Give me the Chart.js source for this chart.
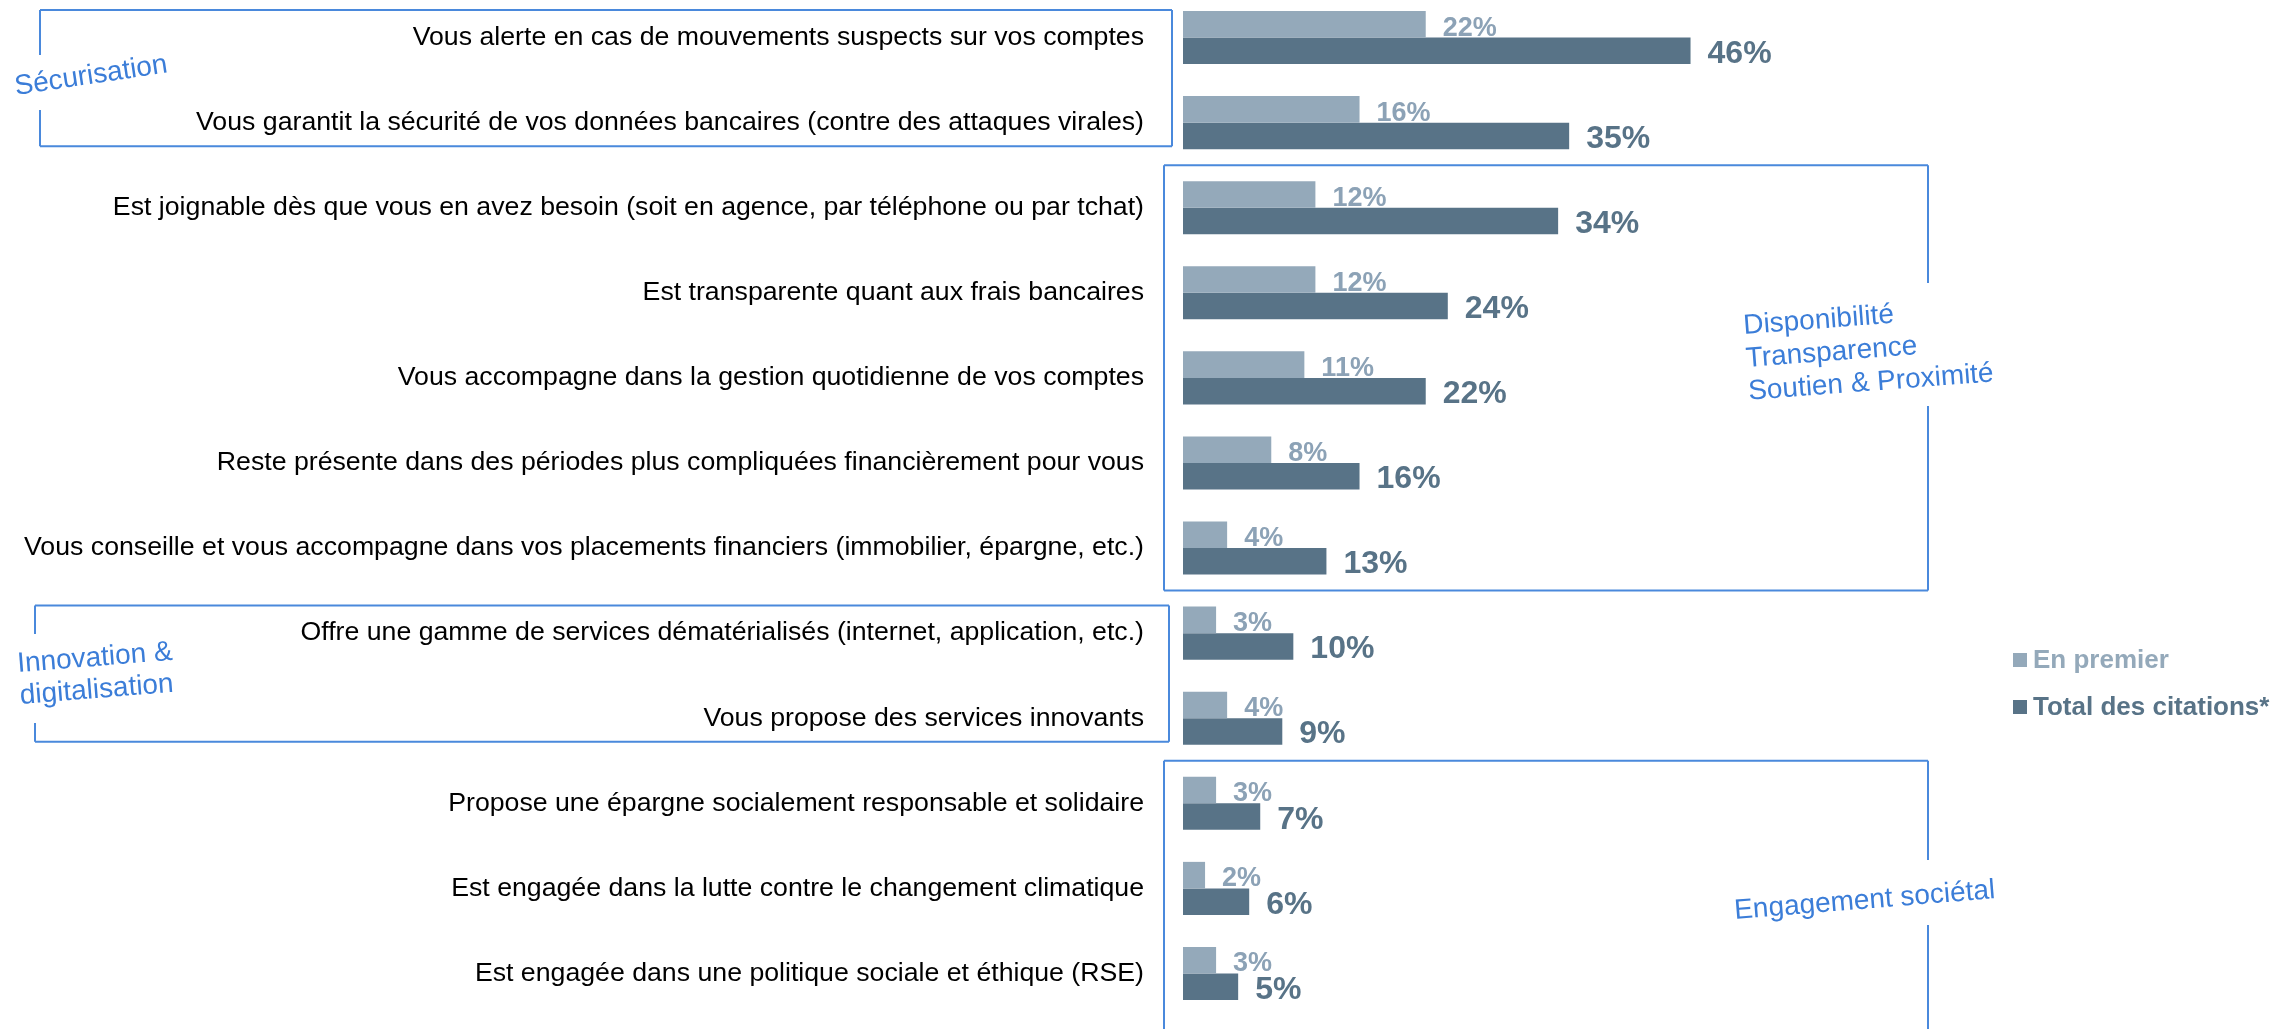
<!DOCTYPE html>
<html lang="fr">
<head>
<meta charset="UTF-8">
<title>Attentes envers la banque</title>
<script src="https://cdn.jsdelivr.net/npm/chart.js"></script>
<style>
  html, body { margin: 0; padding: 0; background: #fff; overflow: hidden; }
  /* le canvas remonte de 5px pour caler la première ligne comme sur l'original */
  .wrap { position: absolute; left: 0; top: -5px; width: 2280px; height: 1034px; }
</style>
</head>
<body>
<div class="wrap"><canvas id="chart"></canvas></div>
<script>
// Données
const categories = [
  'Vous alerte en cas de mouvements suspects sur vos comptes',
  'Vous garantit la sécurité de vos données bancaires (contre des attaques virales)',
  'Est joignable dès que vous en avez besoin (soit en agence, par téléphone ou par tchat)',
  'Est transparente quant aux frais bancaires',
  'Vous accompagne dans la gestion quotidienne de vos comptes',
  'Reste présente dans des périodes plus compliquées financièrement pour vous',
  'Vous conseille et vous accompagne dans vos placements financiers (immobilier, épargne, etc.)',
  'Offre une gamme de services dématérialisés (internet, application, etc.)',
  'Vous propose des services innovants',
  'Propose une épargne socialement responsable et solidaire',
  'Est engagée dans la lutte contre le changement climatique',
  'Est engagée dans une politique sociale et éthique (RSE)'
];
const enPremier = [22, 16, 12, 12, 11, 8, 4, 3, 4, 3, 2, 3];
const totalCitations = [46, 35, 34, 24, 22, 16, 13, 10, 9, 7, 6, 5];
const seriesNames = ['En premier', 'Total des citations*'];

// Regroupements thématiques (lignes de texte, première et dernière catégorie)
const groupNames = [
  ['Sécurisation'],
  ['Disponibilité', 'Transparence', 'Soutien & Proximité'],
  ['Innovation &', 'digitalisation'],
  ['Engagement sociétal']
];
const groupRows = [[0, 1], [2, 6], [7, 8], [9, 11]];

const FONT = '"Liberation Sans", Arial, Helvetica, sans-serif';
const BLUE_TXT = '#3B7DD8';
const BLUE_LINE = '#4A89DC';
const OFF = 5; // décalage vertical du canvas

// Étiquettes de valeurs
const valueLabels = {
  id: 'valueLabels',
  afterDatasetsDraw(chart) {
    const ctx = chart.ctx;
    chart.data.datasets.forEach((ds, di) => {
      const meta = chart.getDatasetMeta(di);
      meta.data.forEach((bar, i) => {
        const txt = ds.data[i] + '%';
        ctx.save();
        ctx.textAlign = 'left';
        ctx.textBaseline = 'alphabetic';
        if (di === 0) {
          ctx.font = 'bold 27px ' + FONT;
          ctx.fillStyle = '#8CA2B6';
          ctx.fillText(txt, bar.x + 17, bar.y + bar.height / 2 - 2);
        } else {
          ctx.font = 'bold 32px ' + FONT;
          ctx.fillStyle = '#587387';
          ctx.fillText(txt, bar.x + 17, bar.y + 12);
        }
        ctx.restore();
      });
    });
  }
};

// Légende à droite
const sideLegend = {
  id: 'sideLegend',
  afterDraw(chart) {
    const ctx = chart.ctx;
    const x = 2013, y0 = 653 + OFF, step = 47;
    chart.data.datasets.forEach((ds, i) => {
      const y = y0 + i * step;
      ctx.save();
      ctx.fillStyle = ds.backgroundColor;
      ctx.fillRect(x, y, 14, 14);
      ctx.font = 'bold 26px ' + FONT;
      ctx.fillStyle = i === 0 ? '#94A9BA' : '#587387';
      ctx.textBaseline = 'alphabetic';
      ctx.fillText(ds.label, x + 20, y + 15);
      ctx.restore();
    });
  }
};

// Cadres bleus + libellés inclinés
const groupBoxes = {
  id: 'groupBoxes',
  afterDraw(chart, args, opts) {
    const ctx = chart.ctx;
    const ys = chart.scales.y;
    const pitch = ys.height / categories.length;
    opts.boxes.forEach((b, gi) => {
      const [r0, r1] = groupRows[gi];
      let top = ys.getPixelForValue(r0) - pitch / 2;
      let bottom = ys.getPixelForValue(r1) + pitch / 2;
      if (b.side === 'left') { top += 15; bottom -= 19; }
      if (b.open) bottom = chart.height + 20;
      ctx.save();
      ctx.strokeStyle = BLUE_LINE;
      ctx.lineWidth = 2;
      ctx.beginPath();
      ctx.moveTo(b.x0, top); ctx.lineTo(b.x1, top);
      ctx.moveTo(b.x0, bottom); ctx.lineTo(b.x1, bottom);
      // côté avec ouverture pour le libellé
      const gx = b.side === 'left' ? b.x0 : b.x1;
      const ox = b.side === 'left' ? b.x1 : b.x0;
      ctx.moveTo(ox, top); ctx.lineTo(ox, bottom);
      ctx.moveTo(gx, top); ctx.lineTo(gx, b.gap[0] + OFF);
      ctx.moveTo(gx, b.gap[1] + OFF); ctx.lineTo(gx, bottom);
      ctx.stroke();

      ctx.translate(b.tx, b.ty + OFF);
      ctx.rotate(-b.angle * Math.PI / 180);
      ctx.font = '28px ' + FONT;
      ctx.fillStyle = BLUE_TXT;
      ctx.textBaseline = 'alphabetic';
      groupNames[gi].forEach((line, li) => ctx.fillText(line, 0, li * b.lh));
      ctx.restore();
    });
  }
};

new Chart(document.getElementById('chart'), {
  type: 'bar',
  data: {
    labels: categories,
    datasets: [
      { label: seriesNames[0], data: enPremier, backgroundColor: '#94A9BA' },
      { label: seriesNames[1], data: totalCitations, backgroundColor: '#587387' }
    ]
  },
  options: {
    indexAxis: 'y',
    responsive: true,
    maintainAspectRatio: false,
    animation: false,
    categoryPercentage: 0.623,
    barPercentage: 1.0,
    layout: { padding: { left: 0, right: 435, top: 0, bottom: 13 } },
    scales: {
      x: { display: false, min: 0, max: 60 },
      y: {
        grid: { display: false, drawTicks: false },
        border: { display: false },
        ticks: {
          autoSkip: false,
          color: '#000',
          padding: 39,
          font: { family: FONT, size: 26.7 }
        },
        afterFit(scale) {
          scale.width = 1183;
          // pas de marge verticale ajoutée par les libellés
          scale.paddingTop = 0;
          scale.paddingBottom = 0;
        }
      }
    },
    plugins: {
      legend: { display: false },
      tooltip: { enabled: false },
      groupBoxes: {
        boxes: [
          { side: 'left', x0: 40, x1: 1172, gap: [55, 110], tx: 16, ty: 95, angle: 8.5, lh: 33 },
          { side: 'right', x0: 1164, x1: 1928, gap: [283, 406], tx: 1744, ty: 334, angle: 4.3, lh: 33 },
          { side: 'left', x0: 35, x1: 1169, gap: [634, 723], tx: 18, ty: 672, angle: 4.5, lh: 32 },
          { side: 'right', x0: 1164, x1: 1928, gap: [860, 925], tx: 1735, ty: 919, angle: 4.6, lh: 33, open: true }
        ]
      }
    }
  },
  plugins: [valueLabels, sideLegend, groupBoxes]
});
</script>
</body>
</html>
